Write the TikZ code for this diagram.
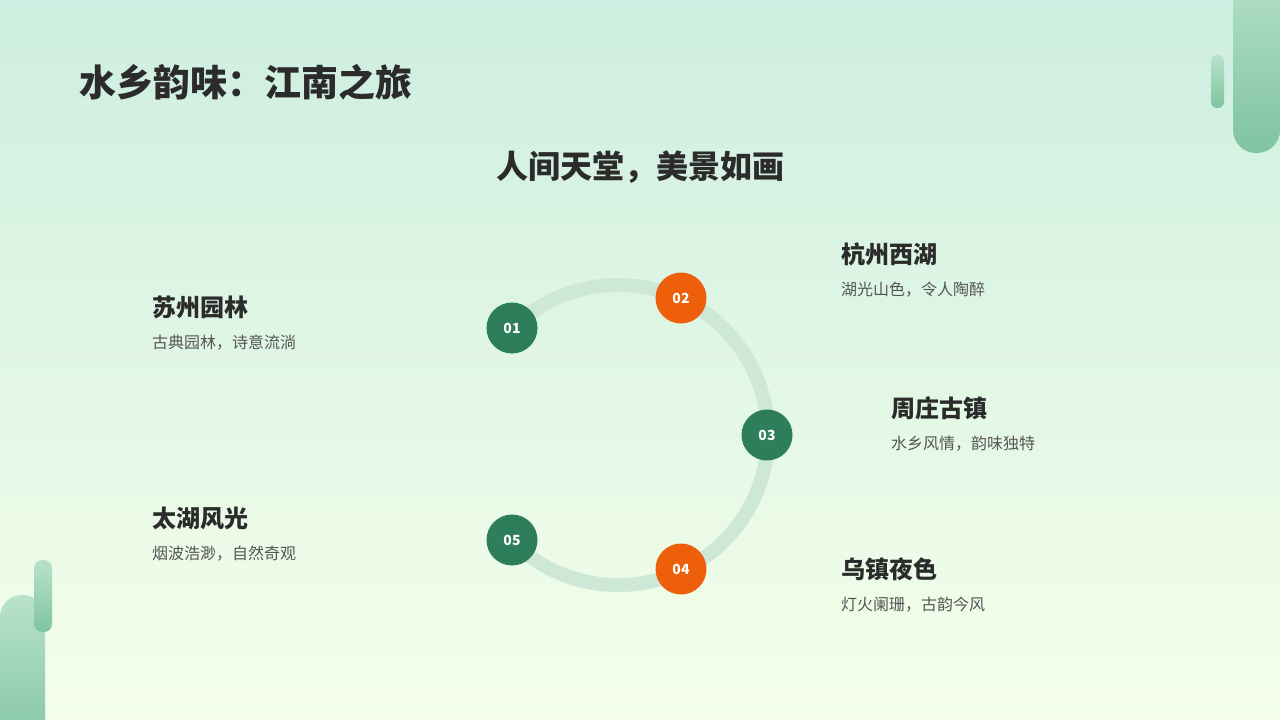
\documentclass[tikz,border=0pt]{standalone}
\usepackage{fontspec}
\setmainfont{Noto Sans CJK SC}
\usetikzlibrary{shadings}
\definecolor{bgtop}{HTML}{CDEEE0}
\definecolor{bgbot}{HTML}{F5FFEA}
\definecolor{dgreen}{HTML}{2E7D5B}
\definecolor{orng}{HTML}{EE5F0C}
\definecolor{arcc}{HTML}{CDE8D6}
\definecolor{txt}{HTML}{2B2B2B}
\definecolor{gtxt}{HTML}{555555}
\definecolor{bar1}{HTML}{7FC4A0}
\definecolor{bar2}{HTML}{B8E2CA}
\begin{document}
\begin{tikzpicture}[x=1pt,y=-1pt,
  num/.style={circle,minimum size=51pt,inner sep=0pt,text=white,font=\fontsize{14}{14}\selectfont\bfseries},
  head/.style={anchor=west,inner sep=0pt,text=txt,font=\fontsize{24}{24}\selectfont\bfseries},
  desc/.style={anchor=west,inner sep=0pt,text=gtxt,font=\fontsize{16}{16}\selectfont}]
\useasboundingbox (0,0) rectangle (1280,720);
\shade[top color=bgtop,bottom color=bgbot] (0,0) rectangle (1280,720);
% decorations
\shade[top color=bar2,bottom color=bar1,rounded corners=23pt] (1233,-40) rectangle (1280,153);
\shade[top color=bar2,bottom color=bar1,rounded corners=6pt] (1211,55) rectangle (1224,108);
\shade[top color=bar2,bottom color=bar1,rounded corners=22pt] (0,595) rectangle (45,760);
\shade[top color=bar2,bottom color=bar1,rounded corners=8pt] (34,560) rectangle (52,632);
% texts
\node[anchor=west,inner sep=0pt,text=txt,font=\fontsize{37}{37}\selectfont\bfseries] (title) at (79,82) {水乡韵味：江南之旅};
\node[text=txt,font=\fontsize{32}{32}\selectfont\bfseries] (sub) at (640,167) {人间天堂，美景如画};
% arc
\coordinate (c) at (618,435);
\draw[arcc,line width=14pt] (c) ++(135:150 and -150) arc[start angle=135,end angle=-135,x radius=150,y radius=-150];
\node[num,fill=dgreen] (n1) at (512,328) {01};
\node[num,fill=orng] (n2) at (681,298) {02};
\node[num,fill=dgreen] (n3) at (767,435) {03};
\node[num,fill=orng] (n4) at (681,569) {04};
\node[num,fill=dgreen] (n5) at (512,540) {05};
\node[head] (h1) at (152,307) {苏州园林};
\node[desc] (d1) at (152,343) {古典园林，诗意流淌};
\node[head] (h2) at (841,254) {杭州西湖};
\node[desc] (d2) at (841,290) {湖光山色，令人陶醉};
\node[head] (h3) at (891,408) {周庄古镇};
\node[desc] (d3) at (891,444) {水乡风情，韵味独特};
\node[head] (h4) at (841,569) {乌镇夜色};
\node[desc] (d4) at (841,605) {灯火阑珊，古韵今风};
\node[head] (h5) at (152,518) {太湖风光};
\node[desc] (d5) at (152,554) {烟波浩渺，自然奇观};
\end{tikzpicture}
\end{document}
